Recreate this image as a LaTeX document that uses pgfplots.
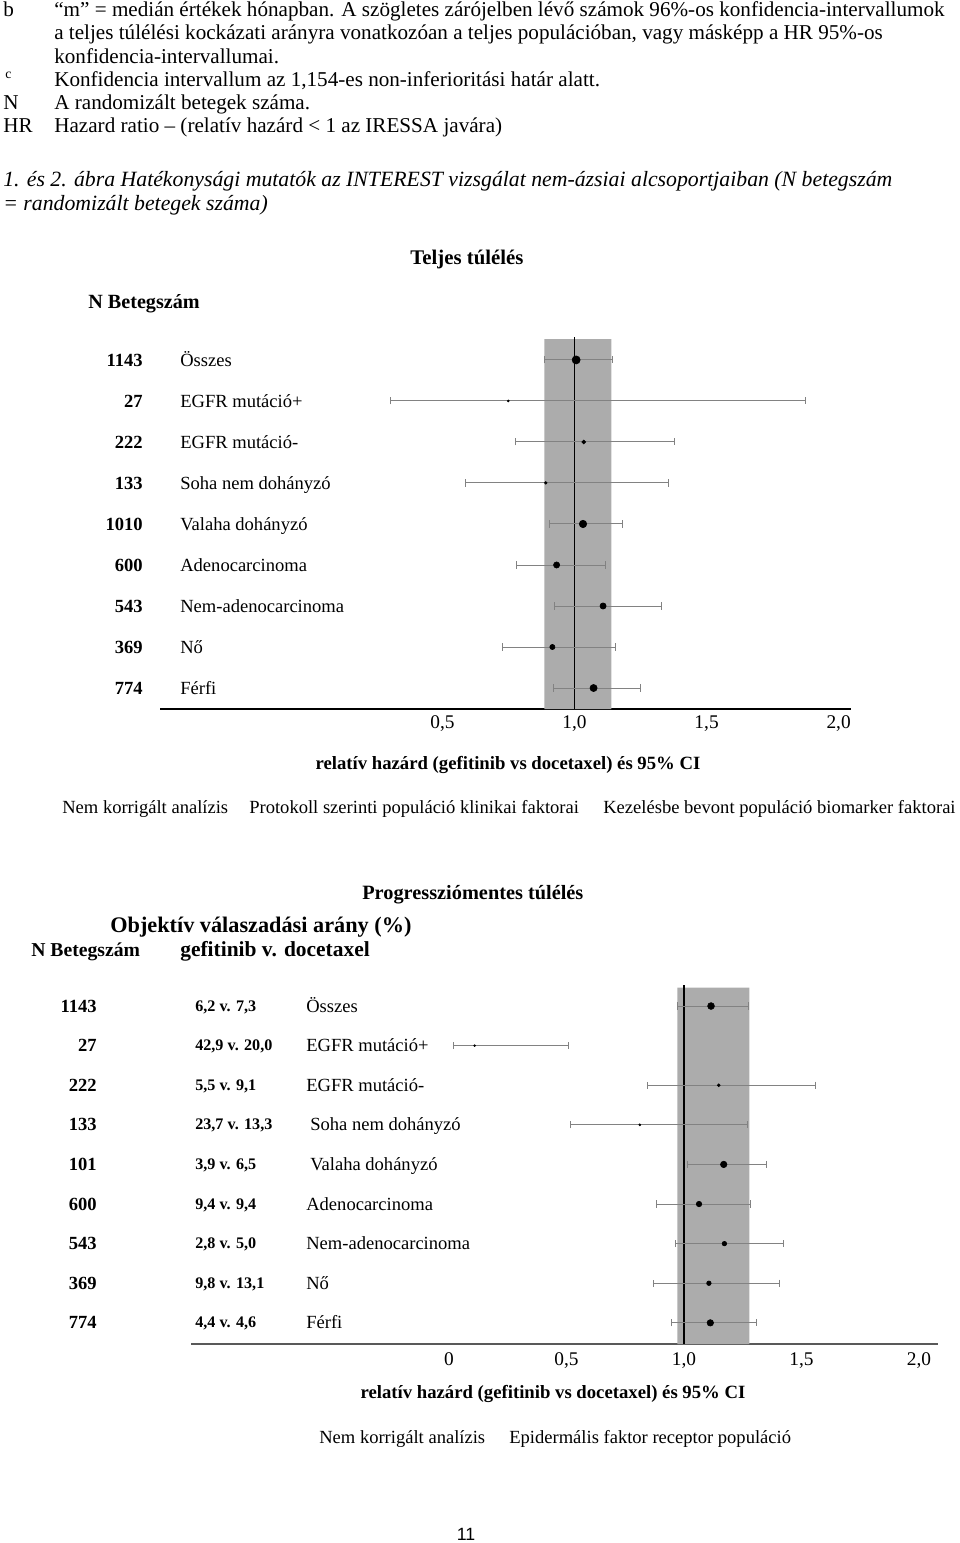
\documentclass[border=0pt]{standalone}
\usepackage{fontspec}
\setmainfont{Liberation Serif}
\newfontfamily\arialf{Liberation Sans}
\usepackage{pgfplots}
\usepackage{pgfplotstable}
\pgfplotsset{compat=1.18}
\definecolor{bandgray}{RGB}{172,172,172}
\definecolor{cigray}{RGB}{130,130,130}
\newcommand{\fs}{\fontsize{11.5}{13.8}\selectfont}
\newcommand{\fsb}{\fontsize{11.5}{13.8}\selectfont\bfseries}
\newcommand{\fsn}{\fontsize{13.1}{15.7}\selectfont}
\newcommand{\fsz}[1]{\fontsize{#1}{#1}\selectfont\bfseries}
\pgfplotsset{
  forest/.style={
    scale only axis, anchor=south west, clip=false,
    y dir=reverse, axis y line=none, ytick=\empty,
    axis x line*=bottom,
    xtick={0.5,1,1.5,2},
    major tick length=0pt,
    xtick style={draw=none},
    /pgf/number format/assume math mode=true,
  },
  ci/.style={
    scatter, only marks, mark=*,
    scatter/use mapped color={draw=black, fill=black},
    visualization depends on={\thisrow{ms} \as \msize},
    scatter/@pre marker code/.append style={/tikz/mark size=\msize},
    error bars/.cd, x dir=both, x explicit,
    error bar style={cigray, line width=0.6pt},
    error mark options={cigray, mark size=2.2pt, line width=0.6pt, rotate=90},
  },
}
\pgfplotstableread{
row hr lo hi ms
1 1.006 0.886 1.144 2.5
2 0.749 0.301 1.873 0.6
3 1.035 0.778 1.378 1.2
4 0.891 0.587 1.356 0.8
5 1.032 0.904 1.182 2.3
6 0.932 0.780 1.116 1.9
7 1.108 0.923 1.330 1.9
8 0.916 0.728 1.156 1.6
9 1.072 0.919 1.249 2.2
}\toptable
\pgfplotstableread{
row hr lo hi ms
1 1.115 0.974 1.274 2.1
2 0.109 0.020 0.509 0.5
3 1.148 0.846 1.560 0.9
4 0.812 0.518 1.269 0.6
5 1.169 1.015 1.349 2.0
6 1.064 0.882 1.284 1.7
7 1.172 0.965 1.425 1.4
8 1.106 0.870 1.406 1.4
9 1.112 0.946 1.307 2.0
}\bottable
\begin{document}
\fs
\begin{tikzpicture}[x=0.62pt,y=-0.62pt, every node/.style={inner sep=0pt, font=\fs}]
\path[use as bounding box] (0,0) rectangle (960,1543);

% ---- notes at top ----
\node[anchor=base west, font=\fsn] at (3,16) {b};
\node[anchor=base west, font=\fsn] at (54,16) {“m” = medián értékek hónapban. A szögletes zárójelben lévő számok 96\%-os konfidencia-intervallumok};
\node[anchor=base west, font=\fsn] at (54,39) {a teljes túlélési kockázati arányra vonatkozóan a teljes populációban, vagy másképp a HR 95\%-os};
\node[anchor=base west, font=\fsn] at (54,63) {konfidencia-intervallumai.};
\node[anchor=base west, font=\fontsize{8.5}{9}\selectfont] at (5,78) {c};
\node[anchor=base west, font=\fsn] at (54,86) {Konfidencia intervallum az 1,154-es non-inferioritási határ alatt.};
\node[anchor=base west, font=\fsn] at (3,109) {N};
\node[anchor=base west, font=\fsn] at (54,109) {A randomizált betegek száma.};
\node[anchor=base west, font=\fsn] at (3,132) {HR};
\node[anchor=base west, font=\fsn] at (54,132) {Hazard ratio – (relatív hazárd < 1 az IRESSA javára)};
\node[anchor=base west, font=\fontsize{13.5}{16}\selectfont\itshape] at (3,186) {1. és 2. ábra Hatékonysági mutatók az INTEREST vizsgálat nem-ázsiai alcsoportjaiban (N betegszám};
\node[anchor=base west, font=\fontsize{13.5}{16}\selectfont\itshape] at (3,210) {= randomizált betegek száma)};

% ---- top forest plot ----
\node[anchor=base, font=\fsz{12.9}] at (467,264) {Teljes túlélés};
\node[anchor=base west, font=\fsz{12.5}] at (88,308) {N Betegszám};
\foreach \n/\lab [count=\i] in {1143/Összes,27/EGFR mutáció+,222/EGFR mutáció-,133/Soha nem dohányzó,1010/Valaha dohányzó,600/Adenocarcinoma,543/Nem-adenocarcinoma,369/Nő,774/Férfi}{
  \node[anchor=base east, font=\fsb] at (143,{366+41*(\i-1)}) {\n};
  \node[anchor=base west] at (180,{366+41*(\i-1)}) {\lab};
}
\begin{axis}[forest, at={(99.2pt,-439.58pt)}, width=428.42pt, height=229.4pt,
  xmin=-0.570, xmax=2.047, ymin=0.49, ymax=9.512,
  xticklabel style={font=\fontsize{12}{14}\selectfont, yshift=-4pt},
  xticklabels={{0,5},{1,0},{1,5},{2,0}},
  x axis line style={-, line width=1.3pt, black}]
\addplot[draw=none, fill=bandgray] coordinates {(0.886,0.49) (1.139,0.49) (1.139,9.512) (0.886,9.512) (0.886,0.49)};
\addplot[black, line width=1pt] coordinates {(1,0.45) (1,9.512)};
\addplot[ci] table[x=hr, y=row, x error plus expr=\thisrow{hi}-\thisrow{hr}, x error minus expr=\thisrow{hr}-\thisrow{lo}] {\toptable};
\end{axis}
\node[anchor=base, font=\fsz{11.6}] at (508,769) {relatív hazárd (gefitinib vs docetaxel) és 95\% CI};
\node[anchor=base west] at (62,813) {Nem korrigált analízis};
\node[anchor=base west] at (249,813) {Protokoll szerinti populáció klinikai faktorai};
\node[anchor=base west] at (603,813) {Kezelésbe bevont populáció biomarker faktorai};

% ---- bottom forest plot ----
\node[anchor=base west, font=\fsz{12.6}] at (362,899) {Progressziómentes túlélés};
\node[anchor=base west, font=\fsz{13.8}] at (110,932) {Objektív válaszadási arány (\%)};
\node[anchor=base west, font=\fsz{12.2}] at (31,956) {N Betegszám};
\node[anchor=base west, font=\fsz{13.3}] at (180,956) {gefitinib v. docetaxel};
\foreach \n/\r/\lab/\dx [count=\i] in {1143/{6,2 v. 7,3}/Összes/0,27/{42,9 v. 20,0}/EGFR mutáció+/0,222/{5,5 v. 9,1}/EGFR mutáció-/0,133/{23,7 v. 13,3}/Soha nem dohányzó/4,101/{3,9 v. 6,5}/Valaha dohányzó/4,600/{9,4 v. 9,4}/Adenocarcinoma/0,543/{2,8 v. 5,0}/Nem-adenocarcinoma/0,369/{9,8 v. 13,1}/Nő/0,774/{4,4 v. 4,6}/Férfi/0}{
  \node[anchor=base east, font=\fsb] at (97,{1012+39.6*(\i-1)}) {\n};
  \node[anchor=base west, font=\fontsize{10}{12}\selectfont\bfseries] at (195,{1011+39.6*(\i-1)}) {\r};
  \node[anchor=base west] at ({306+\dx},{1012+39.6*(\i-1)}) {\lab};
}
\begin{axis}[forest, at={(118.42pt,-833.28pt)}, width=463.14pt, height=221.03pt,
  xmin=-1.098, xmax=2.081, ymin=0.533, ymax=9.535,
  xtick={0,0.5,1,1.5,2},
  xticklabel style={font=\fontsize{12}{14}\selectfont, yshift=-5pt},
  xticklabels={{0},{0,5},{1,0},{1,5},{2,0}},
  x axis line style={-, line width=1pt, black!65}]
\addplot[draw=none, fill=bandgray] coordinates {(0.972,0.533) (1.278,0.533) (1.278,9.535) (0.972,9.535) (0.972,0.533)};
\addplot[black, line width=1pt] coordinates {(1,0.48) (1,9.535)};
\addplot[ci] table[x=hr, y=row, x error plus expr=\thisrow{hi}-\thisrow{hr}, x error minus expr=\thisrow{hr}-\thisrow{lo}] {\bottable};
\end{axis}
\node[anchor=base, font=\fsz{11.6}] at (553,1398) {relatív hazárd (gefitinib vs docetaxel) és 95\% CI};
\node[anchor=base west] at (319,1443) {Nem korrigált analízis};
\node[anchor=base west] at (509,1443) {Epidermális faktor receptor populáció};

\node[anchor=base, font=\fontsize{11}{13}\selectfont\arialf] at (466,1540) {11};
\end{tikzpicture}
\end{document}
